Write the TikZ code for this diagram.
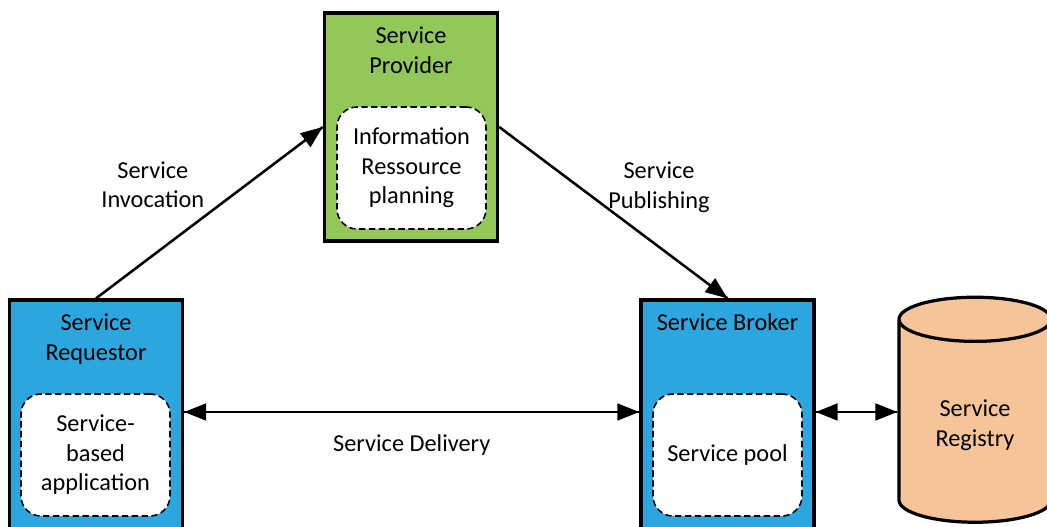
\documentclass[tikz,border=0pt]{standalone}
\usepackage{fontspec}
\setmainfont{Carlito}
\usetikzlibrary{arrows.meta}
\usetikzlibrary{decorations.markings}
\usetikzlibrary{positioning}
\usetikzlibrary{shapes.geometric}
\tikzset{->/.style = {decoration={markings,
                                  mark=at position 1 with {\arrow{Triangle[length=5.5mm, width=4.2mm]}}},
                      postaction={decorate}}}
\tikzset{<->/.style = {decoration={markings,
                                   mark=at position 0 with {\arrowreversed{Triangle[length=5.5mm, width=4.2mm]}},
                                   mark=at position 1 with {\arrow{Triangle[length=5.5mm, width=4.2mm]}}},
                       postaction={decorate}}}
\tikzset{outer/.style = {draw, line width=2.3pt, minimum width=4.33cm, inner sep=0}}
\tikzset{inner/.style = {draw, fill=white, dashed, dash pattern=on 4.5pt off 2.5pt, line width=1.1pt,
                         rounded corners=0.5cm, minimum width=3.725cm, minimum height=3.05cm, align=center}}
\tikzset{lbl/.style = {align=center}}
\definecolor{sblue}{RGB}{44, 166, 222}
\definecolor{sgreen}{RGB}{146, 200, 90}
\definecolor{sorange}{RGB}{245, 196, 152}

\begin{document}
\begin{tikzpicture}[font=\fontsize{17.3}{21}\selectfont, line width=1.8pt]
    \useasboundingbox (0, 0) rectangle (26.175, 13.175);
    \clip (0, 0) rectangle (26.175, 13.175);

    % provider
    \node (provider) [outer, fill=sgreen, minimum height=5.7cm] at (10.275, 10) {};
    \node at (10.275, 11.925) [lbl] {Service\\Provider};
    \node (planning) [inner] at (10.2875, 8.975) {Information\\Ressource\\planning};

    % requestor
    \node (requestor) [outer, fill=sblue, minimum height=6.2cm] at (2.4, 2.575) {};
    \node at (2.4, 4.7) [lbl] {Service\\Requestor};
    \node (app) [inner] at (2.3875, 1.8) {Service-\\based\\application};

    % broker
    \node (broker) [outer, fill=sblue, minimum height=6.2cm] at (18.1875, 2.575) {};
    \node at (18.1875, 5.125) {Service Broker};
    \node (pool) [inner] at (18.1875, 1.8) {Service pool};

    % registry
    \node (registry) [cylinder, shape border rotate=90, aspect=0.5, draw, fill=sorange, line width=2.3pt,
                      minimum width=3.8cm, minimum height=5.625cm, align=center] at (24.375, 2.54) {Service\\Registry};

    \coordinate (mid) at (0, 2.875);

    \draw [->] (requestor.north) -- (provider.west) node [pos=0.3, above=0.83cm, xshift=-0.28cm, lbl] {Service\\Invocation};
    \draw [->] (provider.east) -- (broker.north) node [pos=0.7, above=0.71cm, lbl] {Service\\Publishing};
    \draw [<->] (requestor.east |- mid) -- (broker.west |- mid) node [pos=0.5, below=0.42cm] {Service Delivery};
    \draw [<->] (broker.east |- mid) -- (registry.west |- mid);

\end{tikzpicture}
\end{document}
